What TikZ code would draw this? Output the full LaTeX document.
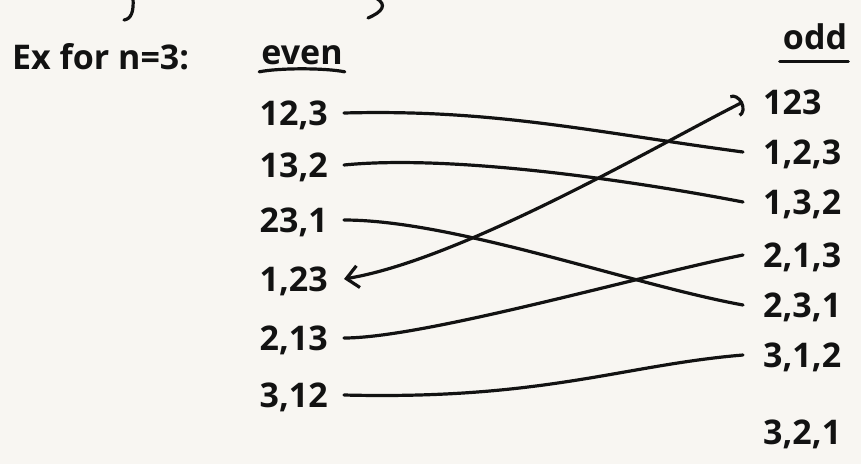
\documentclass[tikz,border=0pt]{standalone}
\usepackage{fontspec}
\setmainfont{Open Sans}
\usetikzlibrary{arrows.meta}
\definecolor{paper}{RGB}{248,246,242}
\definecolor{ink}{RGB}{18,18,18}

\begin{document}
\begin{tikzpicture}[
  x=1pt, y=-1pt,
  every node/.style={font=\fontsize{34}{40}\selectfont\bfseries, text=ink},
  hdr/.style={inner sep=0pt},
  ev/.style={anchor=east, inner xsep=16pt, inner ysep=0pt, text height=25pt, text depth=0pt},
  od/.style={anchor=west, inner xsep=20pt, inner ysep=0pt, text height=25pt, text depth=0pt},
  pen/.style={draw=ink, line width=3.2pt, line cap=round}
]
\useasboundingbox (0,0) rectangle (861,464);
\fill[paper] (0,0) rectangle (861,464);
% bits of the line above
\draw[pen] (133,-2) .. controls (134,12) and (131,19) .. (124,20);
\draw[pen] (376,-2) .. controls (388,5) and (382,12) .. (368,18);
% headings
\node[hdr, anchor=west] (ex) at (12,57) {Ex for n=3:};
\node[hdr] (even) at (302,55) {even};
\node[hdr] (odd) at (815,37) {odd};
\draw[pen] ([xshift=-2pt,yshift=-7pt]even.south west) .. controls +(20,-4) and +(-20,-4) .. ([xshift=2pt,yshift=-7pt]even.south east);
\draw[pen] ([xshift=-3pt,yshift=-11pt]odd.south west) -- ([xshift=1pt,yshift=-11pt]odd.south east);
% even side
\node[ev] (ev1) at (344,113) {12,3};
\node[ev] (ev2) at (344,165) {13,2};
\node[ev] (ev3) at (344,220) {23,1};
\node[ev] (ev4) at (344,279) {1,23};
\node[ev] (ev5) at (344,338) {2,13};
\node[ev] (ev6) at (344,395) {3,12};
% odd side
\node[od] (od1) at (743,102) {123};
\node[od] (od2) at (743,152) {1,2,3};
\node[od] (od3) at (743,202) {1,3,2};
\node[od] (od4) at (743,255) {2,1,3};
\node[od] (od5) at (743,305) {2,3,1};
\node[od] (od6) at (743,355) {3,1,2};
\node[od] (od7) at (743,432) {3,2,1};
% matching
\draw[pen] (ev1.east) .. controls +(150,-4) and +(-150,-20) .. (od2.west);
\draw[pen] (ev2.east) .. controls +(100,-10) and +(-130,-25) .. (od3.west);
\draw[pen] (ev3.east) .. controls +(110,0) and +(-110,-20) .. (od5.west);
\draw[pen, {Straight Barb[length=12pt,width=22pt]}-{Arc Barb[length=9pt,width=24pt]}] (ev4.east) .. controls +(120,-20) and +(-80,40) .. (od1.west);
\draw[pen] (ev5.east) .. controls +(80,0) and +(-100,20) .. (od4.west);
\draw[pen] (ev6.east) .. controls +(200,5) and +(-120,10) .. (od6.west);
\end{tikzpicture}
\end{document}
